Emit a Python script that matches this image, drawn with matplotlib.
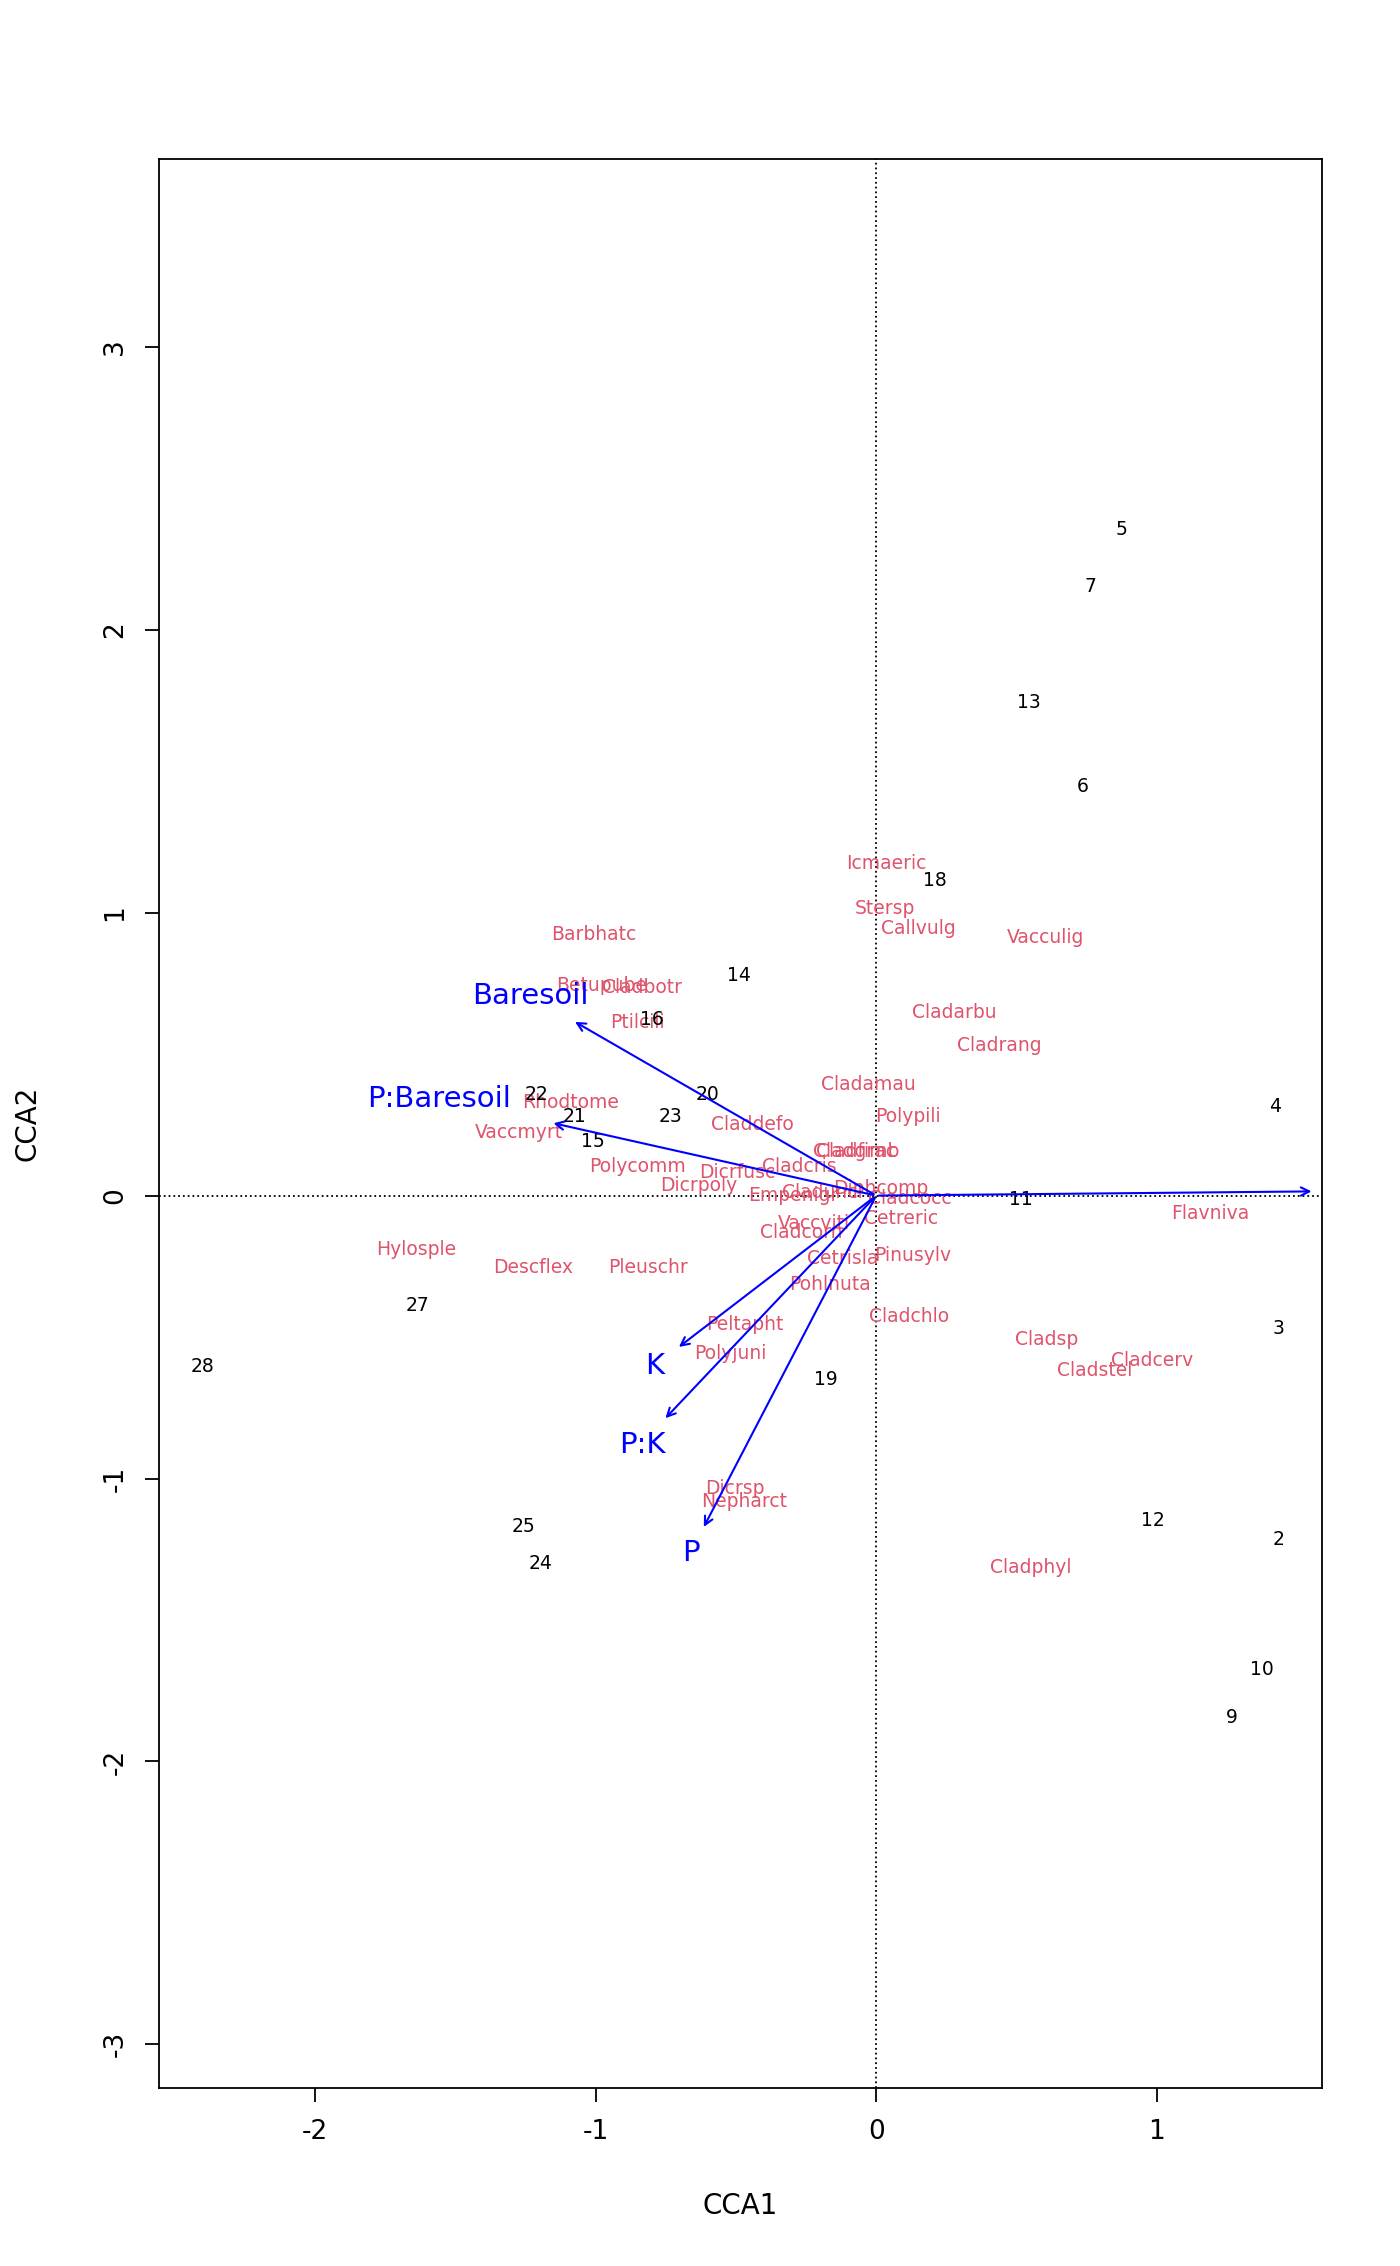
import matplotlib
matplotlib.use("Agg")
import matplotlib.pyplot as plt

plt.rcParams["axes.unicode_minus"] = False

# site scores
site_lab = ["5", "7", "13", "6", "18", "14", "16", "22", "20", "21", "23", "15", "4", "11",
            "3", "27", "28", "19", "25", "24", "12", "2", "10", "9"]
site_x = [0.876, 0.763, 0.546, 0.737, 0.211, -0.490, -0.799, -1.211, -0.603, -1.077, -0.732,
          -1.010, 1.423, 0.515, 1.433, -1.634, -2.402, -0.180, -1.258, -1.196, 0.985, 1.433,
          1.376, 1.268]
site_y = [2.356, 2.155, 1.742, 1.448, 1.113, 0.778, 0.624, 0.356, 0.356, 0.278, 0.278, 0.191,
          0.314, -0.015, -0.469, -0.387, -0.603, -0.649, -1.170, -1.299, -1.149, -1.216,
          -1.675, -1.845]

# species scores
sp_lab = ["Icmaeric", "Stersp", "Callvulg", "Vacculig", "Barbhatc", "Betupube", "Cladbotr",
          "Ptilcili", "Cladarbu", "Cladrang", "Cladamau", "Rhodtome", "Polypili", "Claddefo",
          "Vaccmyrt", "Cladgrac", "Cladfimb", "Polycomm", "Dicrfusc", "Cladcris", "Dicrpoly",
          "Diphcomp", "Empenigr", "Cladunci", "Cladcocc", "Vaccviti", "Cetreric", "Cladcorn",
          "Pinusylv", "Cetrisla", "Pohlnuta", "Cladchlo", "Peltapht", "Polyjuni", "Cladsp",
          "Cladcerv", "Cladstel", "Dicrsp", "Nepharct", "Cladphyl", "Flavniva", "Hylosple",
          "Descflex", "Pleuschr"]
sp_x = [0.036, 0.031, 0.149, 0.603, -1.005, -0.979, -0.835, -0.851, 0.278, 0.438, -0.026,
        -1.088, 0.113, -0.443, -1.273, -0.077, -0.067, -0.851, -0.495, -0.273, -0.634, 0.015,
        -0.294, -0.191, 0.119, -0.222, 0.088, -0.268, 0.129, -0.119, -0.165, 0.119, -0.469,
        -0.521, 0.608, 0.985, 0.778, -0.505, -0.469, 0.552, 1.191, -1.639, -1.222, -0.814]
sp_y = [1.175, 1.015, 0.943, 0.912, 0.923, 0.742, 0.737, 0.613, 0.649, 0.531, 0.392, 0.330,
        0.278, 0.253, 0.222, 0.155, 0.155, 0.103, 0.082, 0.103, 0.036, 0.026, 0.0, 0.010,
        -0.010, -0.098, -0.082, -0.129, -0.211, -0.222, -0.314, -0.428, -0.454, -0.557,
        -0.510, -0.582, -0.619, -1.036, -1.082, -1.314, -0.062, -0.191, -0.253, -0.253]

# biplot arrows
env_lab = ["Baresoil", "P:Baresoil", "K", "P:K", "P", ""]
env_x = [-1.082, -1.160, -0.711, -0.758, -0.619, 1.562]
env_y = [0.619, 0.258, -0.541, -0.794, -1.180, 0.015]
env_lx = [-1.232, -1.557, -0.789, -0.835, -0.660, 1.70]
env_ly = [0.706, 0.340, -0.603, -0.881, -1.263, 0.02]

fig = plt.figure(figsize=(14, 22.66), dpi=100)
ax = fig.add_axes([0.1135, 0.0785, 0.8305, 0.8514])
ax.set_xlim(-2.557, 1.588)
ax.set_ylim(-3.155, 3.665)

ax.axhline(0, color="black", ls=":", lw=1.3)
ax.axvline(0, color="black", ls=":", lw=1.3)

for l, x, y in zip(sp_lab, sp_x, sp_y):
    ax.text(x, y, l, color="#DF536B", fontsize=13.5, ha="center", va="center")
for l, x, y in zip(site_lab, site_x, site_y):
    ax.text(x, y, l, color="black", fontsize=13.5, ha="center", va="center")
for l, x, y, lx, ly in zip(env_lab, env_x, env_y, env_lx, env_ly):
    ax.annotate("", xy=(x, y), xytext=(0, 0),
                arrowprops=dict(arrowstyle="->", color="blue", lw=1.5, mutation_scale=15))
    if l:
        ax.text(lx, ly, l, color="blue", fontsize=21, ha="center", va="center")

ax.set_xticks([-2, -1, 0, 1])
ax.set_yticks([-3, -2, -1, 0, 1, 2, 3])
ax.tick_params(direction="out", length=10, width=1.3, labelsize=19, pad=12)
for t in ax.get_yticklabels():
    t.set_rotation(90)
    t.set_va("center")
for s in ax.spines.values():
    s.set_linewidth(1.3)
ax.set_xlabel("CCA1", fontsize=20, labelpad=34)
ax.set_ylabel("CCA2", fontsize=20, labelpad=44)

fig.savefig("out.png", dpi=100)
